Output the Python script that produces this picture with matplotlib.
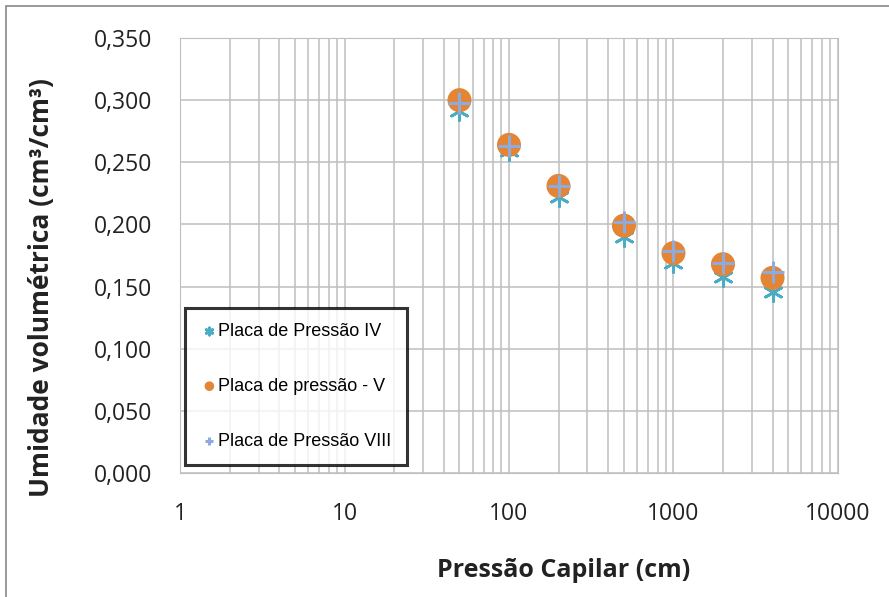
import numpy as np
import matplotlib.pyplot as plt
from matplotlib.patches import Rectangle
from matplotlib.ticker import FixedLocator, LogLocator, NullFormatter, FuncFormatter

plt.rcParams['font.family'] = ['Open Sans', 'DejaVu Sans']

# dados
pressao = [50, 100, 200, 500, 1000, 2000, 4000]
placa_iv = [0.291, 0.259, 0.222, 0.190, 0.169, 0.158, 0.146]
placa_v = [0.300, 0.264, 0.231, 0.199, 0.177, 0.168, 0.157]
placa_viii = [0.298, 0.263, 0.231, 0.202, 0.179, 0.169, 0.162]
y_ticks = [0.0, 0.05, 0.10, 0.15, 0.20, 0.25, 0.30, 0.35]
x_ticks = [1, 10, 100, 1000, 10000]

fig = plt.figure(figsize=(8.89, 5.97), dpi=100)
ax = fig.add_axes([0.2025, 0.2077, 0.7401, 0.7286])

ax.scatter(pressao, placa_iv, marker=(6, 2, 0), s=170, color='#4BACC6', linewidths=2.0,
           label='Placa de Pressão IV', zorder=3)
ax.scatter(pressao, placa_v, marker='o', s=300, color='#E38535', edgecolors='none',
           label='Placa de pressão - V', zorder=4)
ax.scatter(pressao, placa_viii, marker='+', s=230, color='#8FAADC', linewidths=2.2,
           label='Placa de Pressão VIII', zorder=5)

ax.set_xscale('log')
ax.set_xlim(1, 10000)
ax.set_ylim(0, 0.35)
ax.xaxis.set_major_locator(FixedLocator(x_ticks))
ax.xaxis.set_minor_locator(LogLocator(base=10, subs=np.arange(2, 10)))
ax.xaxis.set_minor_formatter(NullFormatter())
ax.xaxis.set_major_formatter(FuncFormatter(lambda v, p: '%d' % v))
ax.set_yticks(y_ticks)
ax.yaxis.set_major_formatter(FuncFormatter(lambda v, p: ('%.3f' % v).replace('.', ',')))

ax.grid(True, which='both', axis='x', color='#BFBFBF', linewidth=1.1)
ax.grid(True, which='major', axis='y', color='#BFBFBF', linewidth=1.1)
ax.set_axisbelow(True)
for s in ax.spines.values():
    s.set_color('#BFBFBF')
ax.tick_params(which='both', length=0, labelsize=16.5, colors='#222222')
ax.tick_params(axis='y', pad=20)
ax.tick_params(axis='x', pad=21)

fig.text(0.047, 0.518, 'Umidade volumétrica (cm³/cm³)', rotation=90, ha='center', va='center',
         fontsize=19, fontweight='bold', color='#222222')
fig.text(0.634, 0.045, 'Pressão Capilar (cm)', ha='center', va='center',
         fontsize=18, fontweight='bold', color='#222222')

leg = ax.legend(loc='lower left', bbox_to_anchor=(0.0076, 0.018), frameon=True, fancybox=False,
                prop={'family': 'Liberation Sans', 'size': 13},
                labelspacing=2.1, handletextpad=0.0, handlelength=1.0,
                borderpad=0.85, markerscale=0.4, borderaxespad=0)
leg.get_frame().set_edgecolor('black')
leg.get_frame().set_linewidth(2.2)

fig.patches.append(Rectangle((0.007, -0.05), 1.2, 1.04, transform=fig.transFigure,
                             fill=False, edgecolor='#888888', linewidth=1.2))

fig.savefig('out.png', dpi=100)
